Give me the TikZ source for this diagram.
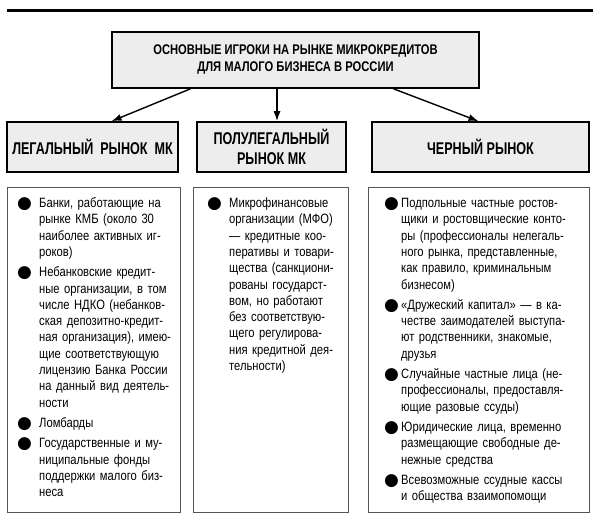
\documentclass[tikz,border=0pt]{standalone}
\usepackage{fontspec}
\setmainfont{Liberation Sans}[FakeStretch=0.83]
\newfontfamily\headfont{Liberation Sans}[FakeStretch=0.74]
\newfontfamily\titlefont{Liberation Sans}[FakeStretch=0.8]
\newfontfamily\dotfont{DejaVu Sans}
\usetikzlibrary{arrows.meta,positioning}
\definecolor{softgray}{RGB}{237,237,237}
\definecolor{framegray}{RGB}{85,85,85}
\newcommand{\itm}[1][0pt]{\par\addvspace{4pt}\noindent\hangindent=22pt\hangafter=1%
  \makebox[22pt][l]{\hspace{#1}\makebox[0pt][l]{\smash{\raisebox{-1pt}{\fontsize{17}{17}\dotfont ●}}}}\ignorespaces}

\begin{document}
\begin{tikzpicture}[x=1pt, y=1pt,
  head/.style={draw, line width=1.6pt, fill=softgray, align=center, inner sep=0pt, minimum height=56pt,
    font=\titlefont\bfseries\fontsize{14}{17}\selectfont},
  market/.style={draw, line width=1.6pt, fill=softgray, align=center, inner sep=0pt, minimum height=50pt,
    font=\headfont\bfseries\fontsize{17}{20}\selectfont},
  panel/.style={draw=framegray, line width=1pt, anchor=north west, minimum height=325pt, inner sep=0pt},
  items/.style={anchor=north west, inner sep=0pt, font=\fontsize{13.5}{16.3}\selectfont,
    execute at begin node={\raggedright\let\\\newline}},
  arrow/.style={-{Latex[length=10pt,width=7pt]}, line width=1.4pt}
]
\useasboundingbox (0,0) rectangle (600,-525);
\draw[line width=3pt] (7,-10) -- (593,-10);

\node[head, minimum width=367pt] (title) at (295.5,-60) {ОСНОВНЫЕ ИГРОКИ НА РЫНКЕ МИКРОКРЕДИТОВ\\ДЛЯ МАЛОГО БИЗНЕСА В РОССИИ};

\node[market, minimum width=171pt] (legal) at (92.5,-147) {ЛЕГАЛЬНЫЙ\ \ РЫНОК\ \ МК};
\node[market, minimum width=149pt] (semilegal) at (271.5,-147) {ПОЛУЛЕГАЛЬНЫЙ\\РЫНОК МК};
\node[market, minimum width=217pt] (illegal) at (480.5,-147) {ЧЕРНЫЙ РЫНОК};

\draw[arrow] ([xshift=-105pt]title.south) -- ([xshift=19pt]legal.north);
\draw[arrow] ([xshift=-18.5pt]title.south) -- ([xshift=5.5pt]semilegal.north);
\draw[arrow] ([xshift=98pt]title.south) -- ([xshift=-2pt]illegal.north);

\node[panel, minimum width=173pt] (legalbox) at (7,-187) {};
\node[panel, minimum width=155pt] (semibox) at (193,-187) {};
\node[panel, minimum width=221pt] (illegalbox) at (368,-187) {};

\node[items, text width=158pt] (legallist) at ([shift={(10,0)}]legalbox.north west) {%
\itm Банки, работающие на\\ рынке КМБ (около 30\\ наиболее активных иг-\\ роков)
\itm Небанковские кредит-\\ ные организации, в том\\ числе НДКО (небанков-\\ ская депозитно-кредит-\\ ная организация), имею-\\ щие соответствующую\\ лицензию Банка России\\ на данный вид деятель-\\ ности
\itm Ломбарды
\itm Государственные и му-\\ ниципальные фонды\\ поддержки малого биз-\\ неса\par};

\node[items, text width=138pt] (semilist) at ([shift={(14,0)}]semibox.north west) {%
\itm Микрофинансовые\\ организации (МФО)\\ — кредитные коо-\\ перативы и товари-\\ щества (санкциони-\\ рованы государст-\\ вом, но работают\\ без соответствую-\\ щего регулирова-\\ ния кредитной дея-\\ тельности)\par};

\node[items, text width=205pt] (illegallist) at ([shift={(11,0)}]illegalbox.north west) {%
\itm[5pt] Подпольные частные ростов-\\ щики и ростовщические конто-\\ ры (профессионалы нелегаль-\\ ного рынка, представленные,\\ как правило, криминальным\\ бизнесом)
\itm[5pt] «Дружеский капитал» — в ка-\\ честве заимодателей выступа-\\ ют родственники, знакомые,\\ друзья
\itm[5pt] Случайные частные лица (не-\\ профессионалы, предоставля-\\ ющие разовые ссуды)
\itm[5pt] Юридические лица, временно\\ размещающие свободные де-\\ нежные средства
\itm[5pt] Всевозможные ссудные кассы\\ и общества взаимопомощи\par};
\end{tikzpicture}
\end{document}
